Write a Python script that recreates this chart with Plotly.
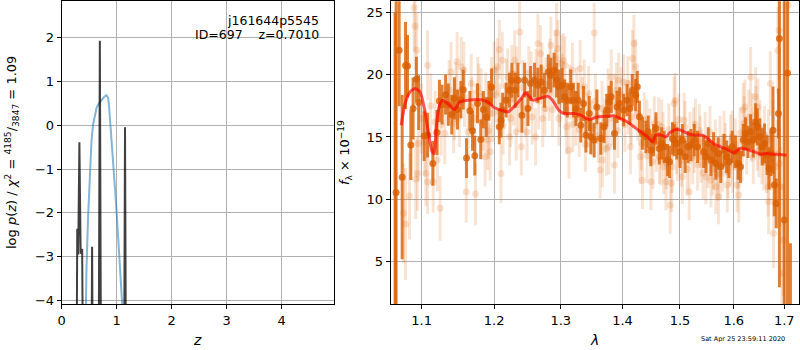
import plotly.graph_objects as go

# ---------------- left panel: redshift PDF ----------------
pz_z = [0.0, 0.270, 0.283, 0.300, 0.322, 0.345, 0.372, 0.390, 0.540, 0.553, 0.566,
        0.672, 0.694, 0.716, 1.135, 1.152, 1.170, 5.0]
pz_logp = [-6, -6, -2.36, -2.95, -0.39, -2.93, -2.82, -6, -6, -2.77, -6,
           -6, 1.92, -6, -6, -0.05, -6, -6]

prior_z = [0.42, 0.43, 0.45, 0.48, 0.511, 0.542, 0.572, 0.602, 0.633, 0.663, 0.724,
           0.77, 0.815, 0.845, 0.864, 0.888, 0.937, 0.97, 0.998, 1.03, 1.058, 1.08, 1.10, 1.12]
prior_logp = [-6, -4.6, -3.3, -2.1, -1.12, -0.36, 0.02, 0.24, 0.39, 0.47, 0.58,
              0.64, 0.68, 0.62, 0.39, 0.02, -0.89, -1.45, -1.95, -2.55, -3.16, -3.6, -4.07, -5]

# ---------------- right panel: spectrum ----------------
light_lam = [1.0763, 1.0789, 1.0841, 1.0901, 1.0914, 1.0935, 1.0944, 1.0922, 1.0961, 1.1079,
             1.1056, 1.1079, 1.1153, 1.1247, 1.1209, 1.1395, 1.1442, 1.1479, 1.1535, 1.1572,
             1.1605, 1.1674, 1.1735, 1.1767, 1.1814, 1.187, 1.1907, 1.1944, 1.1963, 1.2,
             1.205, 1.2075, 1.2119, 1.2099, 1.2199, 1.2224, 1.2259, 1.2299, 1.2323, 1.2373,
             1.2398, 1.2483, 1.2547, 1.2612, 1.2647, 1.2687, 1.2721, 1.2756, 1.2821, 1.2846,
             1.292, 1.2935, 1.2955, 1.297, 1.3005, 1.3038, 1.3065, 1.3091, 1.3129, 1.3183,
             1.3237, 1.3306, 1.3371, 1.3425, 1.3468, 1.3532, 1.3575, 1.3629, 1.3667, 1.3731,
             1.3774, 1.3812, 1.3866, 1.3898, 1.3935, 1.4018, 1.4088, 1.4135, 1.417, 1.4193,
             1.4222, 1.4298, 1.4339, 1.4415, 1.4485, 1.4544, 1.4632, 1.4673, 1.4708, 1.4749,
             1.4825, 1.4848, 1.4895, 1.4912, 1.4953, 1.5043, 1.5074, 1.5167, 1.5247, 1.5259,
             1.5352, 1.5383, 1.5475, 1.5568, 1.5617, 1.566, 1.571, 1.5741, 1.5815, 1.5877,
             1.5938, 1.5969, 1.6065, 1.6098, 1.6183, 1.6216, 1.6327, 1.6359, 1.6425, 1.6471,
             1.649, 1.6588, 1.6673, 1.6719, 1.6686, 1.6784, 1.6817, 1.685, 1.6902, 1.6928,
             1.6954, 1.698, 1.6869, 1.6895, 1.708,
             1.100, 1.104, 1.112, 1.118, 1.126, 1.131, 1.137, 1.143, 1.146, 1.151,
             1.158, 1.163, 1.168, 1.172, 1.178, 1.184, 1.188, 1.192, 1.198, 1.203,
             1.208, 1.213, 1.218, 1.224, 1.228, 1.233, 1.236, 1.242, 1.246, 1.251,
             1.256, 1.262, 1.266, 1.271, 1.277, 1.283, 1.287, 1.291, 1.298, 1.302,
             1.308, 1.314, 1.319, 1.325, 1.329, 1.334, 1.339, 1.344, 1.350, 1.355,
             1.360, 1.366, 1.371, 1.376, 1.383, 1.388, 1.392, 1.398, 1.404, 1.410,
             1.415, 1.421, 1.426, 1.432, 1.437, 1.442, 1.447, 1.452, 1.458, 1.462,
             1.466, 1.470, 1.476, 1.480, 1.486, 1.490, 1.494, 1.498, 1.503, 1.509,
             1.513, 1.518, 1.523, 1.528, 1.532, 1.537, 1.542, 1.546, 1.551, 1.555,
             1.560, 1.565, 1.569, 1.574, 1.579, 1.584, 1.589, 1.594, 1.598, 1.603,
             1.608, 1.612, 1.616, 1.620, 1.625, 1.629, 1.634, 1.638, 1.643, 1.646,
             1.651, 1.655, 1.660, 1.664, 1.668, 1.673, 1.677]
light_flux = [8.86, 8.00, 10.25, 25.4, 23.9, 21.97, 12.07, 11.61, 14.48, 20.77,
              12.07, 11.4, 11.4, 9.26, 13.14, 20.23, 17.16, 21.04, 20.64, 20.37,
              10.6, 19.3, 10.41, 19.03, 18.23, 13.41, 14.75, 13.81, 19.03, 20.37,
              20.64, 22.03, 21.17, 12.07, 19.83, 15.01, 20.1, 21.17, 15.41, 23.45,
              14.21, 15.41, 19.57, 15.01, 22.51, 21.71, 16.49, 17.29, 18.49, 22.38,
              21.31, 23.37, 22.11, 16.49, 20.9, 21.17, 20.77, 15.82, 13.94, 20.37,
              16.49, 20.5, 19.03, 16.35, 15.82, 23.37, 16.62, 12.34, 13.14, 14.08,
              14.21, 19.83, 12.74, 18.76, 19.57, 19.43, 19.3, 14.21, 21.31, 22.51,
              20.64, 13.41, 11.53, 15.82, 11.4, 16.08, 13.41, 15.82, 12.6, 11.4,
              9.52, 11.27, 17.69, 17.96, 13.67, 11.8, 16.35, 10.6, 15.28, 14.21,
              15.55, 13.41, 11.8, 11.53, 12.87, 11.0, 10.19, 12.07, 15.01, 11.13,
              13.14, 15.01, 11.13, 10.33, 17.16, 17.42, 19.83, 16.22, 18.23, 17.42,
              13.94, 13.0, 11.0, 19.3, 9.79, 7.25, 12.6, 13.67, 12.87, 11.0,
              4.04, 6.71, 21.97, 23.58, 25.59,
              16.5, 14.6, 17.5, 16.2, 16.0, 15.3, 18.8, 16.1, 18.6, 16.6,
              18.2, 15.4, 17.4, 16.5, 18.6, 16.2, 17.9, 15.5, 16.9, 18.4,
              17.0, 15.9, 19.1, 16.5, 18.1, 20.0, 17.6, 19.0, 17.3, 20.1,
              16.6, 19.9, 17.9, 20.4, 19.2, 20.7, 17.2, 19.8, 18.0, 19.5,
              17.2, 18.6, 16.0, 18.4, 15.6, 17.6, 14.4, 18.5, 15.7, 17.9,
              15.1, 17.3, 15.9, 18.3, 16.5, 17.8, 15.5, 18.4, 16.0, 17.4,
              16.6, 18.0, 16.9, 14.5, 16.4, 13.5, 15.1, 13.0, 14.4, 16.0,
              13.2, 14.9, 12.9, 15.6, 12.6, 16.0, 14.1, 16.4, 13.1, 15.8,
              12.4, 14.9, 13.3, 16.0, 12.8, 14.6, 12.1, 14.9, 13.0, 15.4,
              12.4, 14.3, 12.0, 14.6, 12.7, 14.0, 12.2, 14.7, 12.6, 14.4,
              12.9, 15.3, 13.6, 16.1, 14.2, 16.6, 15.2, 13.4, 16.8, 14.6,
              15.7, 13.5, 15.2, 12.9, 14.8, 13.2, 15.5]
light_err = [4.0, 4.5, 3.5, 3.5, 3.5, 3.0, 3.0, 3.2, 3.0, 2.8,
             2.6, 2.6, 2.5, 2.6, 2.5, 2.4, 2.4, 2.4, 2.4, 2.3,
             2.5, 2.4, 2.5, 2.4, 2.3, 2.4, 2.4, 2.3, 2.4, 2.3,
             2.3, 2.4, 2.3, 2.4, 2.3, 2.3, 2.3, 2.4, 2.3, 2.6,
             2.3, 2.3, 2.3, 2.3, 2.4, 2.3, 2.3, 2.2, 2.2, 2.3,
             2.3, 2.4, 2.3, 2.2, 2.3, 2.2, 2.3, 2.2, 2.3, 2.2,
             2.2, 2.3, 2.2, 2.2, 2.2, 2.4, 2.2, 2.3, 2.2, 2.2,
             2.2, 2.2, 2.3, 2.2, 2.2, 2.2, 2.2, 2.2, 2.3, 2.3,
             2.2, 2.2, 2.3, 2.2, 2.3, 2.2, 2.2, 2.2, 2.2, 2.3,
             2.3, 2.3, 2.2, 2.2, 2.2, 2.2, 2.2, 2.3, 2.1, 2.1,
             2.1, 2.1, 2.2, 2.2, 2.1, 2.2, 2.2, 2.1, 2.1, 2.2,
             2.1, 2.1, 2.2, 2.2, 2.2, 2.2, 2.4, 2.3, 2.4, 2.3,
             2.2, 2.3, 2.4, 2.6, 2.6, 2.8, 2.6, 2.7, 3.0, 3.2,
             4.0, 4.5, 3.5, 4.0, 5.0,
             2.8, 2.7, 2.6, 2.5, 2.5, 2.5, 2.4, 2.4, 2.4, 2.4,
             2.4, 2.3, 2.4, 2.3, 2.3, 2.3, 2.3, 2.3, 2.3, 2.3,
             2.3, 2.3, 2.2, 2.3, 2.2, 2.3, 2.2, 2.2, 2.3, 2.2,
             2.2, 2.2, 2.3, 2.2, 2.2, 2.2, 2.2, 2.2, 2.2, 2.2,
             2.2, 2.2, 2.2, 2.2, 2.2, 2.2, 2.2, 2.2, 2.2, 2.2,
             2.2, 2.2, 2.2, 2.2, 2.2, 2.2, 2.2, 2.2, 2.2, 2.2,
             2.2, 2.2, 2.2, 2.2, 2.2, 2.2, 2.2, 2.2, 2.2, 2.2,
             2.1, 2.1, 2.1, 2.1, 2.1, 2.1, 2.1, 2.1, 2.1, 2.1,
             2.1, 2.1, 2.1, 2.1, 2.1, 2.1, 2.1, 2.1, 2.1, 2.1,
             2.1, 2.1, 2.1, 2.1, 2.1, 2.1, 2.1, 2.1, 2.1, 2.1,
             2.1, 2.1, 2.2, 2.2, 2.2, 2.2, 2.2, 2.2, 2.3, 2.3,
             2.3, 2.3, 2.3, 2.4, 2.4, 2.5, 2.5]

dark_lam = [1.0655, 1.0668, 1.0707, 1.0746, 1.0789, 1.0815, 1.0858, 1.0888, 1.0931, 1.0961,
            1.1033, 1.1079, 1.1149, 1.1205, 1.1237, 1.1274, 1.1321, 1.1358, 1.1405, 1.1442,
            1.1484, 1.1530, 1.1563, 1.1609, 1.1656, 1.1693, 1.1725, 1.1763, 1.1809, 1.1846,
            1.1888, 1.1925, 1.1963,
            1.2075, 1.2100, 1.2124, 1.2174, 1.2224, 1.2259, 1.2308, 1.2348, 1.2408, 1.2448,
            1.2498, 1.2537, 1.2597, 1.2647, 1.2697, 1.2746, 1.2806, 1.2846, 1.2896, 1.2935,
            1.2970, 1.3021, 1.3059, 1.3102, 1.3156, 1.3199, 1.3237, 1.3274, 1.3317, 1.3360,
            1.3398, 1.3452, 1.3478, 1.3532, 1.3575,
            1.3640, 1.3694, 1.3737, 1.3774, 1.3812, 1.3866, 1.3909, 1.3952, 1.4018, 1.4076,
            1.4123, 1.4164, 1.4222, 1.4251, 1.4287, 1.4339, 1.4398, 1.4439, 1.4485, 1.4532,
            1.4573, 1.4632, 1.4673, 1.4719, 1.4778, 1.4813, 1.4865, 1.4895, 1.4942, 1.5000,
            1.5043, 1.5093, 1.5148, 1.5198, 1.5259, 1.5321,
            1.5432, 1.5475, 1.5519, 1.5568, 1.5617, 1.5660, 1.5704, 1.5753, 1.5815, 1.5864,
            1.5907, 1.5969, 1.6033, 1.6085, 1.6131, 1.6183, 1.6229, 1.6275, 1.6327, 1.6379,
            1.6425, 1.6458, 1.6510, 1.6556, 1.6601, 1.6654, 1.6693, 1.6732, 1.6771, 1.6797,
            1.6837, 1.6882, 1.6902, 1.7000, 1.7067, 1.7127]
dark_flux = [-5.0, 10.54, 21.97, 11.77, 20.74, 20.7, 14.35, 17.29, 19.65, 17.77,
             15.07, 15.15, 12.87, 15.36, 17.9, 17.6, 18.4, 17.6, 16.8, 18.1,
             17.2, 18.0, 18.8, 13.3, 17.1, 15.5, 13.5, 17.7, 14.8, 17.2,
             16.6, 17.9, 19.0,
             15.82, 16.35, 17.16, 17.96, 18.76, 19.57, 18.76, 19.57, 16.75, 19.57,
             17.29, 19.3, 19.57, 19.16, 19.43, 18.76, 20.23, 19.97, 20.37, 19.57,
             19.03, 19.16, 18.23, 17.96, 19.03, 17.96, 17.29, 17.96, 15.95, 17.69,
             15.15, 16.89, 15.01, 14.75, 17.42,
             14.88, 15.82, 17.16, 17.82, 18.23, 15.28, 17.42, 17.69, 17.16, 17.96,
             17.29, 18.76, 18.36, 19.03, 16.62, 15.28, 15.01, 15.42, 13.94, 14.75,
             15.68, 14.08, 14.48, 14.21, 13.14, 13.0, 14.88, 14.75, 14.48, 13.81,
             14.75, 13.41, 14.21, 14.35, 14.75, 14.21,
             13.81, 13.41, 14.48, 13.14, 14.08, 12.87, 13.67, 12.6, 13.94, 13.41,
             13.0, 14.21, 13.81, 12.87, 12.6, 14.75, 15.28, 14.61, 15.42, 14.75,
             16.22, 15.82, 15.01, 14.21, 14.48, 13.54, 12.47, 13.67, 15.55, 11.13,
             9.66, 16.89, 22.91, 8.32, 20.15, -2.0]
dark_err = [30, 20, 4.5, 6.6, 3.5, 2.5, 2.8, 2.5, 1.8, 2.2,
            2.0, 1.8, 1.8, 1.8, 1.7, 1.6, 1.6, 1.7, 1.6, 1.7,
            1.6, 1.5, 1.6, 1.6, 1.6, 1.6, 1.6, 1.6, 1.6, 1.5,
            1.6, 1.6, 1.5,
            1.4, 1.4, 1.4, 1.4, 1.4, 1.4, 1.4, 1.4, 1.4, 1.4,
            1.4, 1.4, 1.4, 1.4, 1.4, 1.4, 1.4, 1.4, 1.4, 1.4,
            1.4, 1.4, 1.4, 1.4, 1.4, 1.4, 1.4, 1.4, 1.4, 1.4,
            1.4, 1.4, 1.4, 1.4, 1.4,
            1.3, 1.3, 1.3, 1.3, 1.3, 1.3, 1.3, 1.3, 1.3, 1.3,
            1.3, 1.3, 1.3, 1.3, 1.3, 1.3, 1.3, 1.3, 1.3, 1.3,
            1.3, 1.3, 1.3, 1.3, 1.3, 1.3, 1.3, 1.3, 1.3, 1.3,
            1.3, 1.3, 1.3, 1.3, 1.3, 1.3,
            1.3, 1.3, 1.3, 1.3, 1.3, 1.3, 1.3, 1.3, 1.3, 1.3,
            1.3, 1.3, 1.3, 1.3, 1.3, 1.3, 1.3, 1.3, 1.4, 1.4,
            1.5, 1.5, 1.5, 1.5, 1.6, 1.6, 1.7, 1.8, 3.5, 2.5,
            2.0, 2.0, 20, 20, 20, 8.45]

model_lam = [1.0733, 1.0784, 1.0849, 1.0914, 1.0978, 1.1033, 1.1084, 1.114, 1.1165, 1.1195,
             1.1233, 1.1279, 1.1349, 1.1442, 1.1512, 1.1628, 1.1814, 1.1907, 1.2, 1.2099,
             1.2199, 1.2299, 1.2398, 1.2458, 1.2498, 1.2572, 1.2672, 1.2796, 1.2871, 1.297,
             1.3048, 1.321, 1.3317, 1.3452, 1.3586, 1.3747, 1.3855, 1.3962, 1.4076, 1.4193,
             1.431, 1.4427, 1.4515, 1.4573, 1.4661, 1.4749, 1.4807, 1.4924, 1.5012, 1.5136,
             1.5259, 1.5414, 1.5506, 1.563, 1.5753, 1.5877, 1.6, 1.6131, 1.6261, 1.6392,
             1.6523, 1.6654, 1.6784, 1.6915, 1.7047]
model_flux = [15.95, 17.69, 18.63, 18.9, 18.63, 17.42, 15.55, 13.81, 13.67, 15.82,
              17.42, 17.96, 17.69, 17.2, 17.82, 17.96, 18.0, 17.82, 17.37, 17.16,
              17.02, 17.48, 18.09, 18.55, 18.36, 17.96, 18.09, 18.28, 17.96, 17.16,
              16.89, 16.89, 16.75, 16.41, 16.62, 16.67, 16.7, 16.49, 16.22, 15.82,
              15.41, 15.01, 14.61, 15.15, 15.15, 15.01, 15.28, 15.6, 15.55, 15.28,
              15.15, 15.15, 14.88, 14.42, 14.21, 14.0, 13.73, 14.08, 14.0, 13.81,
              13.62, 13.67, 13.62, 13.59, 13.54]

lam_ticks = [1.1, 1.2, 1.3, 1.4, 1.5, 1.6, 1.7]
z_ticks = [0, 1, 2, 3, 4]
logp_ticks = [-4, -3, -2, -1, 0, 1, 2]
flux_ticks = [5, 10, 15, 20, 25]

# ---------------- figure ----------------
W, H = 800, 350
FONT = "DejaVu Sans"
GRID = "#b0b0b0"
ORANGE_DARK = "rgba(217,95,2,0.8)"
ORANGE_LIGHT = "rgba(217,95,2,0.17)"

fig = go.Figure()

fig.add_trace(go.Scatter(x=prior_z, y=prior_logp, mode="lines",
                         line=dict(color="rgba(31,119,180,0.55)", width=2),
                         xaxis="x", yaxis="y", showlegend=False))
fig.add_trace(go.Scatter(x=pz_z, y=pz_logp, mode="lines",
                         line=dict(color="rgba(0,0,0,0.75)", width=2),
                         xaxis="x", yaxis="y", showlegend=False))

fig.add_trace(go.Scatter(x=light_lam, y=light_flux, mode="markers",
                         marker=dict(size=7, color=ORANGE_LIGHT, line=dict(width=0)),
                         error_y=dict(type="data", array=light_err, color=ORANGE_LIGHT,
                                      thickness=3, width=0),
                         xaxis="x2", yaxis="y2", showlegend=False))
fig.add_trace(go.Scatter(x=dark_lam, y=dark_flux, mode="markers",
                         marker=dict(size=7, color=ORANGE_DARK, line=dict(width=0)),
                         error_y=dict(type="data", array=dark_err, color=ORANGE_DARK,
                                      thickness=3, width=0),
                         xaxis="x2", yaxis="y2", showlegend=False))
fig.add_trace(go.Scatter(x=model_lam, y=model_flux, mode="lines",
                         line=dict(color="rgba(255,0,0,0.65)", width=3, shape="spline",
                                   smoothing=0.6),
                         xaxis="x2", yaxis="y2", showlegend=False))

ydom = [1 - 304 / H, 1 - 1.3 / H]
axis_common = dict(showgrid=True, gridcolor=GRID, gridwidth=1, zeroline=False,
                   showline=True, mirror=True, linecolor="black", linewidth=1,
                   ticks="outside", ticklen=4, tickwidth=1, tickcolor="black",
                   automargin=False,
                   tickfont=dict(family=FONT, size=13, color="black"))

fig.update_layout(
    width=W, height=H,
    margin=dict(l=0, r=0, t=0, b=0, autoexpand=False),
    paper_bgcolor="white", plot_bgcolor="white",
    font=dict(family=FONT, color="black"),
    xaxis=dict(domain=[61.7 / W, 334.3 / W], range=[0, 4.96], tickvals=z_ticks,
               anchor="y", **axis_common),
    yaxis=dict(domain=ydom, range=[-4.075, 2.82], tickvals=logp_ticks,
               anchor="x", **axis_common),
    xaxis2=dict(domain=[390.7 / W, 799.3 / W], type="log",
                range=[0.02526, 0.2383], tickvals=lam_ticks,
                ticktext=[str(v) for v in lam_ticks], anchor="y2", **axis_common),
    yaxis2=dict(domain=ydom, range=[1.57, 25.91], tickvals=flux_ticks,
                anchor="x2", **axis_common),
)

def ann(text, x, y, size=13, xanchor="center", yanchor="middle", angle=0):
    fig.add_annotation(text=text, x=x / W, y=1 - y / H, xref="paper", yref="paper",
                       showarrow=False, xanchor=xanchor, yanchor=yanchor,
                       textangle=angle, font=dict(family=FONT, size=size, color="black"))

ann("j161644p5545", 321, 20, size=12.5, xanchor="right")
ann("ID=697\u00a0\u00a0\u00a0\u00a0z=0.7010", 321, 35, size=12.5, xanchor="right")
ann("<i>z</i>", 197, 340, size=14)
ann("<i>λ</i>", 594, 340, size=14)
ann("log <i>p</i>(<i>z</i>) / <i>χ</i><sup>2</sup> = <sup>4185</sup>/<sub>3847</sub> = 1.09",
    12, 153, size=13, angle=-90)
ann("<i>f</i><sub>λ</sub> × 10<sup>−19</sup>", 345, 153, size=13, angle=-90)
ann("Sat Apr 25 23:59:11 2020", 743, 339, size=6.5)

fig.write_html("out.html",
               config={"displayModeBar": False},
               post_script="document.body.style.margin='0';document.body.style.padding='0';"
                           "document.body.style.overflow='hidden';")
